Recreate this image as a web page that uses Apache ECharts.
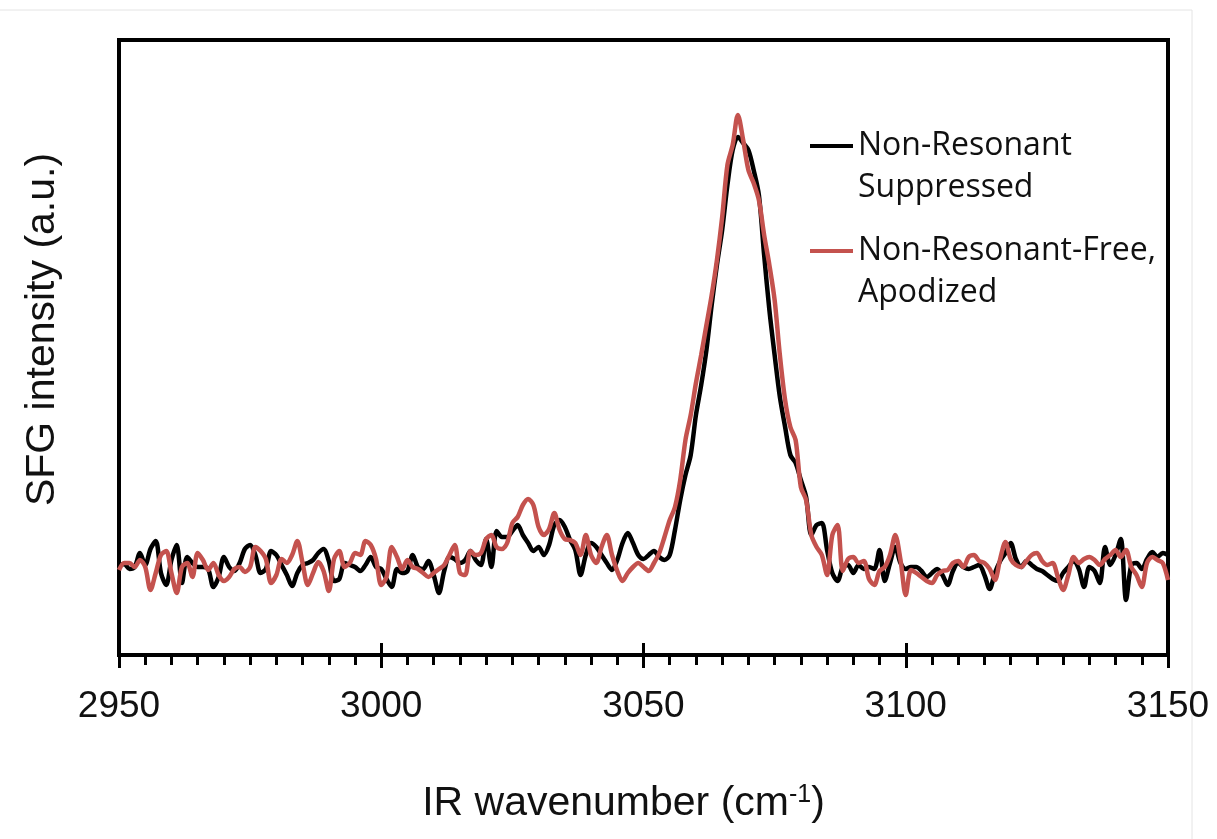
<!DOCTYPE html>
<html>
<head>
<meta charset="utf-8">
<script src="https://cdn.jsdelivr.net/npm/echarts@6/dist/echarts.min.js"></script>
<style>
  html, body { margin: 0; padding: 0; background: #fff; }
  #container { width: 1217px; height: 839px; }
</style>
</head>
<body>
<div id="container"></div>
<script>
// wavenumber grid, cm-1
var xStart = 2950;
var xEnd = 3150;
var xTicks = [2950, 3000, 3050, 3100, 3150];

// Non-Resonant Suppressed (a.u.)
var suppressed = [
	90, 91, 86, 88, 102, 90, 106, 114, 82, 70,
	95, 110, 72, 98, 92, 88, 88, 86, 68, 78,
	98, 88, 84, 92, 106, 110, 100, 82, 86, 104,
	100, 90, 80, 69, 82, 90, 92, 95, 102, 106,
	94, 74, 76, 92, 90, 88, 84, 90, 98, 88,
	86, 76, 68, 86, 82, 84, 100, 88, 86, 94,
	80, 62, 84, 98, 96, 92, 95, 104, 95, 90,
	116, 88, 124, 118, 118, 124, 130, 120, 112, 104,
	108, 100, 110, 130, 135, 128, 115, 105, 80, 100,
	112, 108, 100, 92, 85, 95, 112, 122, 112, 100,
	96, 100, 104, 98, 95, 100, 125, 155, 180, 200,
	240, 270, 305, 350, 390, 425, 470, 505, 518, 512,
	505, 485, 460, 400, 345, 300, 258, 228, 200, 192,
	175, 158, 120, 130, 132, 105, 82, 74, 88, 90,
	82, 90, 86, 88, 86, 105, 74, 92, 108, 92,
	86, 88, 88, 84, 78, 82, 86, 80, 70, 84,
	92, 88, 86, 88, 90, 80, 66, 82, 94, 102,
	112, 96, 88, 94, 90, 86, 84, 80, 76, 74,
	82, 88, 94, 86, 68, 88, 84, 72, 108, 90,
	100, 116, 55, 90, 92, 86, 96, 103, 98, 102,
	100
];

// Non-Resonant-Free, Apodized (a.u.)
var apodized = [
	85, 92, 92, 88, 95, 88, 65, 82, 100, 104,
	82, 62, 88, 92, 78, 102, 95, 85, 92, 80,
	74, 78, 86, 88, 83, 88, 108, 104, 96, 72,
	80, 96, 92, 100, 114, 92, 70, 82, 93, 84,
	64, 96, 104, 88, 92, 102, 100, 114, 110, 96,
	70, 78, 108, 98, 86, 95, 88, 86, 82, 78,
	82, 86, 90, 100, 110, 82, 80, 104, 100, 102,
	116, 120, 108, 106, 112, 132, 138, 150, 156, 150,
	128, 120, 126, 142, 125, 116, 115, 112, 100, 120,
	100, 92, 108, 120, 100, 84, 74, 82, 88, 92,
	88, 84, 92, 102, 118, 135, 148, 175, 215, 240,
	272, 300, 330, 360, 395, 438, 490, 510, 540, 515,
	485, 472, 455, 420, 390, 355, 300, 255, 228, 215,
	168, 155, 120, 108, 100, 80, 120, 130, 84, 96,
	98, 92, 94, 76, 70, 84, 88, 100, 120, 95,
	60, 85, 82, 78, 74, 72, 80, 84, 85, 92,
	94, 88, 98, 100, 94, 92, 86, 75, 96, 113,
	96, 90, 88, 94, 100, 102, 94, 90, 92, 78,
	65, 80, 98, 92, 96, 98, 95, 90, 96, 100,
	105, 98, 105, 88, 80, 68, 92, 98, 95, 92,
	75
];

function pairs(vals) {
	var out = [];
	for (var i = 0; i < vals.length; i++) {
		out.push([xStart + i, vals[i]]);
	}
	return out;
}

var names = ['Non-Resonant Suppressed', 'Non-Resonant-Free, Apodized'];
var legendText = {
	'Non-Resonant Suppressed': '\nNon-Resonant\nSuppressed',
	'Non-Resonant-Free, Apodized': '\nNon-Resonant-Free,\nApodized'
};

var dom = document.getElementById('container');
var myChart = echarts.init(dom, null, { renderer: 'canvas' });

var legendBase = {
	orient: 'vertical',
	left: 810,
	itemWidth: 43,
	itemHeight: 4,
	icon: 'rect',
	padding: 0,
	selectedMode: false,
	formatter: function(name) { return legendText[name]; },
	textStyle: {
		fontFamily: 'Open Sans',
		fontSize: 32,
		lineHeight: 42,
		color: '#111'
	}
};

var option = {
	animation: false,
	backgroundColor: '#fff',
	graphic: [{
		type: 'rect',
		shape: { x: -10, y: 10, width: 1202, height: 900 },
		style: { fill: 'none', stroke: '#e4e4e4', lineWidth: 1 },
		silent: true
	}],
	legend: [
		echarts.util.merge({ top: 83, data: [names[0]] }, legendBase),
		echarts.util.merge({ top: 188, data: [names[1]] }, legendBase)
	],
	grid: {
		left: 119,
		right: 49,
		top: 40,
		bottom: 184,
		show: true,
		borderColor: '#000',
		borderWidth: 4,
		containLabel: false
	},
	xAxis: [{
		type: 'value',
		min: xStart,
		max: xEnd,
		interval: 50,
		name: 'IR wavenumber (cm{sup|-1})',
		nameLocation: 'middle',
		nameGap: 128,
		nameTextStyle: {
			fontFamily: 'Liberation Sans',
			fontSize: 41,
			color: '#111',
			padding: [0, 40, 0, 0],
			rich: {
				sup: { fontFamily: 'Liberation Sans', fontSize: 25, verticalAlign: 'top', color: '#111' }
			}
		},
		axisLine: { show: true, lineStyle: { color: '#000', width: 4 } },
		axisTick: { show: true, length: 13, lineStyle: { color: '#000', width: 3 } },
		minorTick: { show: true, splitNumber: 10, length: 10, lineStyle: { color: '#000', width: 3 } },
		splitLine: { show: false },
		axisLabel: {
			margin: 33,
			fontFamily: 'Liberation Sans',
			fontSize: 37,
			color: '#111',
			formatter: function(v) { return xTicks.indexOf(v) >= 0 ? String(v) : ''; }
		}
	}, {
		type: 'value',
		min: xStart,
		max: xEnd,
		interval: 50,
		position: 'bottom',
		axisLine: { show: false },
		axisTick: { show: true, inside: true, length: 12, lineStyle: { color: '#000', width: 3 } },
		axisLabel: { show: false },
		splitLine: { show: false }
	}],
	yAxis: {
		type: 'value',
		min: 0,
		max: 615,
		name: 'SFG intensity (a.u.)',
		nameLocation: 'middle',
		nameGap: 56,
		nameRotate: 90,
		nameTextStyle: {
			fontFamily: 'Liberation Sans',
			fontSize: 41,
			color: '#111',
			padding: [0, 0, 0, 36]
		},
		axisLine: { show: true, lineStyle: { color: '#000', width: 4 } },
		axisTick: { show: false },
		axisLabel: { show: false },
		splitLine: { show: false }
	},
	series: [{
		name: names[0],
		type: 'line',
		data: pairs(suppressed),
		showSymbol: false,
		smooth: 0.3,
		lineStyle: { color: '#000', width: 4.5 },
		itemStyle: { color: '#000' },
		z: 2
	}, {
		name: names[1],
		type: 'line',
		data: pairs(apodized),
		showSymbol: false,
		smooth: 0.3,
		lineStyle: { color: '#C4524E', width: 4.5 },
		itemStyle: { color: '#C4524E' },
		z: 3
	}]
};

if (option && typeof option === 'object') {
	myChart.setOption(option, true);
}
</script>
</body>
</html>
